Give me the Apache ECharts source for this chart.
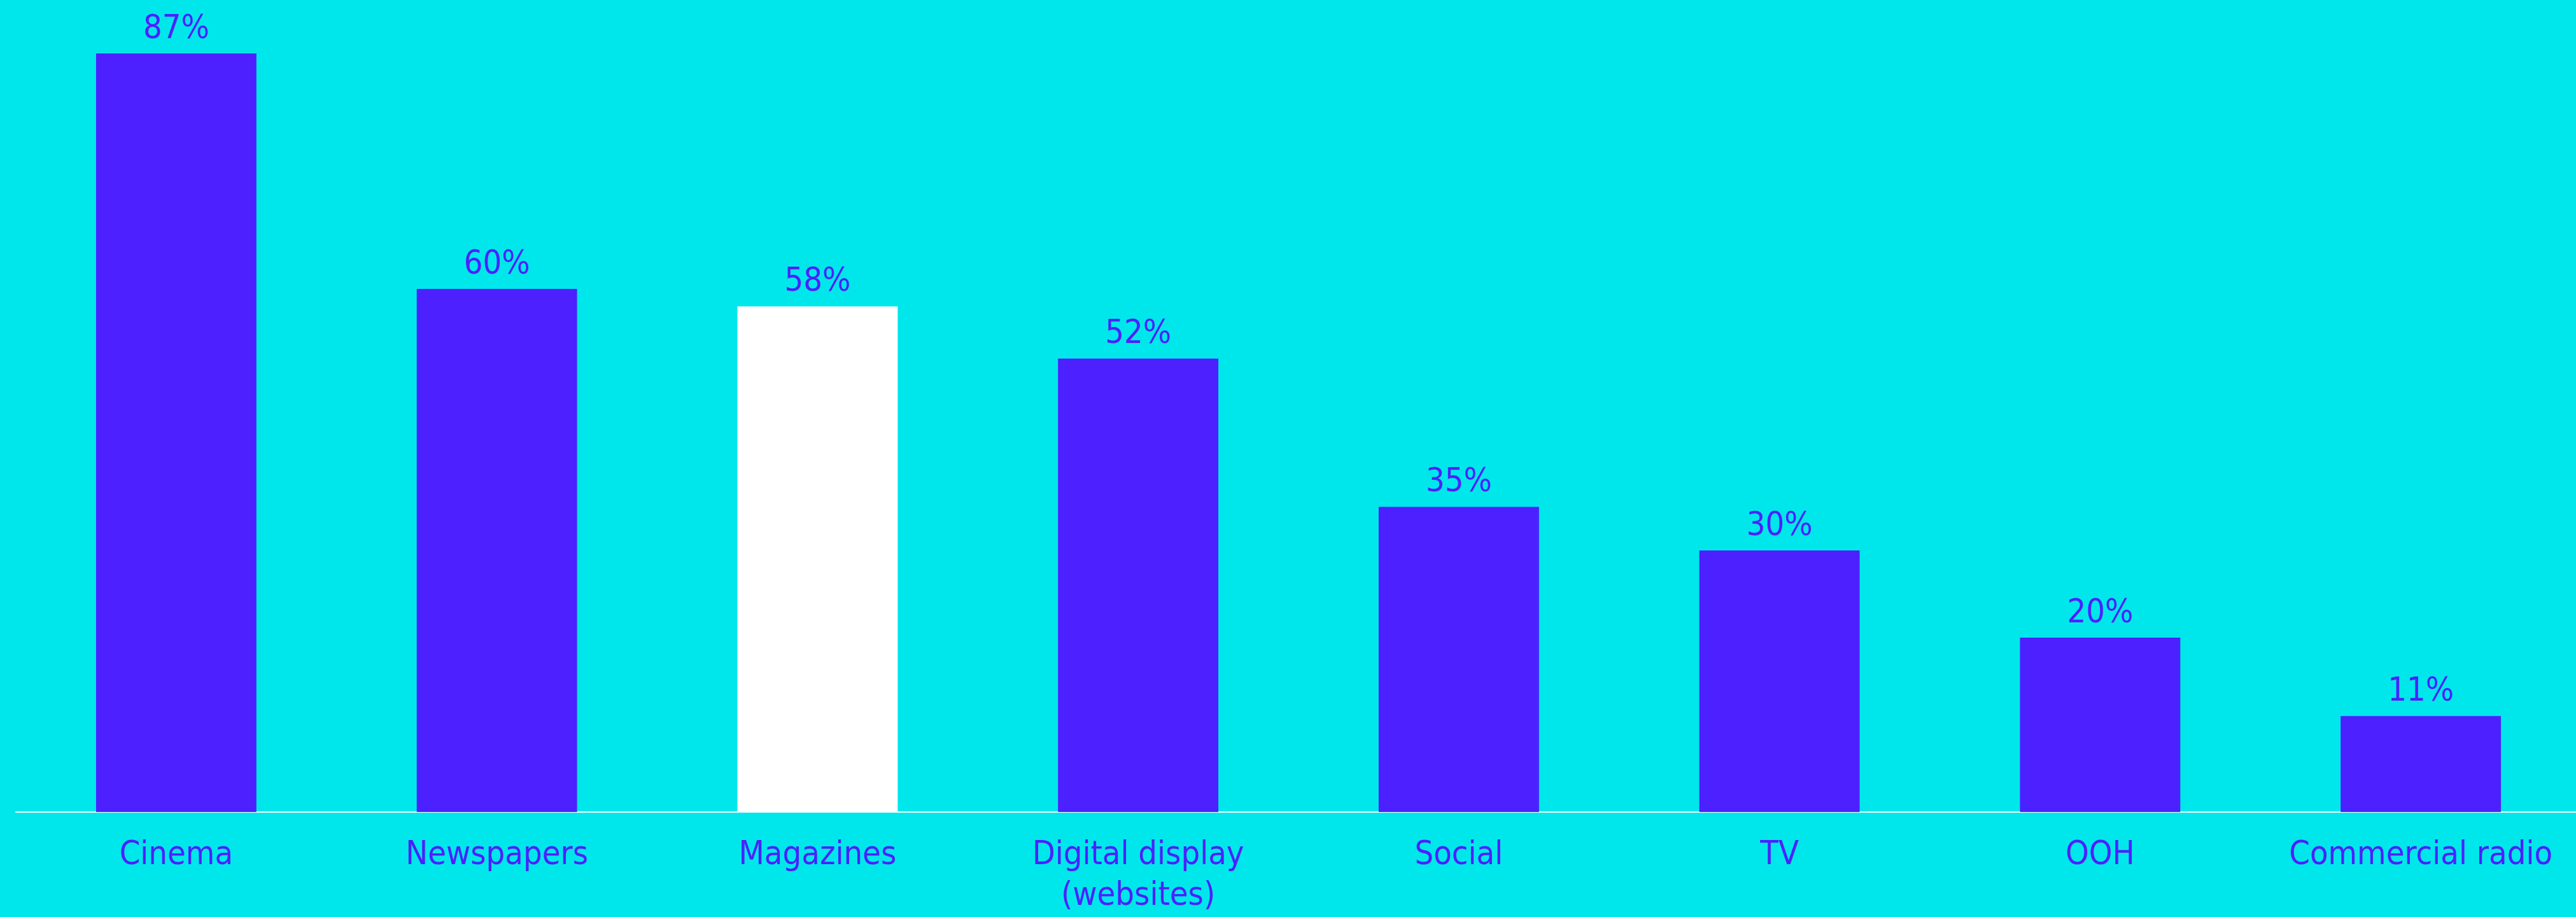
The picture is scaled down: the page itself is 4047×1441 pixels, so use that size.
<!DOCTYPE html>
<html>
<head>
<meta charset="utf-8">
<style>
  html, body { margin: 0; padding: 0; background: #00E7EB; }
  #chart { width: 4047px; height: 1441px; }
</style>
<script src="https://cdn.jsdelivr.net/npm/echarts@6/dist/echarts.min.js"></script>
</head>
<body>
<div id="chart"></div>
<script>
// Share of audience by channel (%)
const categories = ['Cinema', 'Newspapers', 'Magazines', 'Digital display\n(websites)', 'Social', 'TV', 'OOH', 'Commercial radio'];
const values = [87, 60, 58, 52, 35, 30, 20, 11];
const highlighted = 'Magazines';

const BG = '#00E7EB';
const BAR = '#4C20FF';
const TEXT = '#4C20FF';
const FONT = '"DejaVu Sans Condensed", "DejaVu Sans", sans-serif';

const chart = echarts.init(document.getElementById('chart'), null, { renderer: 'canvas' });

chart.setOption({
  backgroundColor: BG,
  animation: false,
  // plot area runs a little past the right edge of the canvas
  grid: { left: 25, width: 4030, top: 43, height: 1233, containLabel: false, outerBoundsMode: 'none' },
  xAxis: {
    type: 'category',
    data: categories,
    axisLine: { show: true, lineStyle: { color: '#FFFFFF', width: 2 } },
    axisTick: { show: false },
    axisLabel: {
      interval: 0,
      color: TEXT,
      fontFamily: FONT,
      fontSize: 52,
      lineHeight: 64,
      margin: 36
    }
  },
  yAxis: {
    type: 'value',
    min: 0,
    max: 90,
    show: false,
    splitLine: { show: false }
  },
  series: [{
    type: 'bar',
    barWidth: '50%',
    data: values.map((v, i) => ({
      value: v,
      itemStyle: { color: categories[i] === highlighted ? '#FFFFFF' : BAR }
    })),
    label: {
      show: true,
      position: 'top',
      distance: 12,
      color: TEXT,
      fontFamily: FONT,
      fontSize: 52,
      formatter: p => p.value + '%'
    }
  }]
});
</script>
</body>
</html>
